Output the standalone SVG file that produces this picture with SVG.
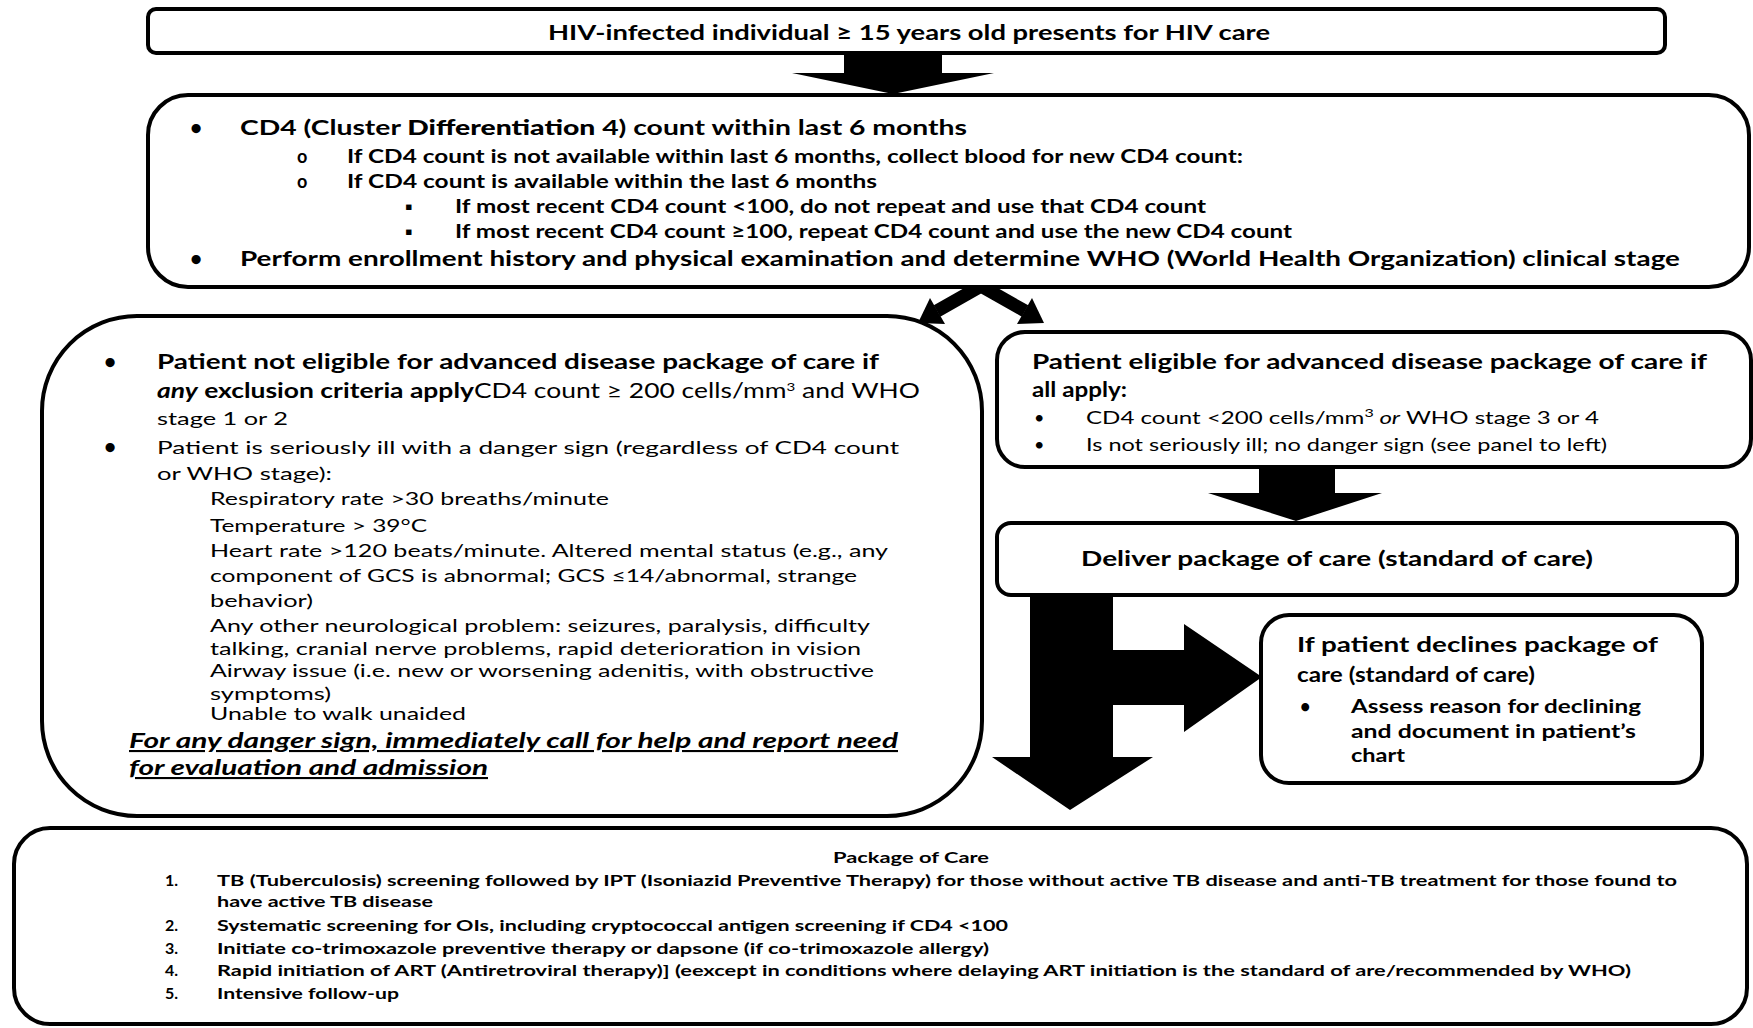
<svg xmlns="http://www.w3.org/2000/svg" width="1753" height="1028" viewBox="0 0 1753 1028">
<style>
.box{fill:#fff;stroke:#000;stroke-width:4}
.arr{fill:#000;stroke:none}
text{font-family:Lato,"Liberation Sans",sans-serif;fill:#000}
.h{font-size:21px;font-weight:700}
.n{font-size:18px;font-weight:400}
.s{font-size:18px;font-weight:700}
.b{font-size:16px;font-weight:700}
.it{font-style:italic}
.u{text-decoration:underline}
</style>
<rect width="1753" height="1028" fill="#fff"/>
<g id="connectors">
<polygon class="arr" points="844,53 942,53 942,73 994,73 893,94 792,73 844,73"/>
<path d="M937,311 L981,286 L1025,311" fill="none" stroke="#000" stroke-width="13" stroke-linejoin="miter"/>
<polygon class="arr" points="918,323 930,298 945,324"/>
<polygon class="arr" points="1044,323 1032,298 1017,324"/>
<polygon class="arr" points="1259,467 1335,467 1335,493 1382,493 1296,521 1208,493 1259,493"/>
<polygon class="arr" points="1030,595 1113,595 1113,650 1184,650 1184,624 1262,677 1184,732 1184,705 1113,705 1113,757 1153,757 1070,810 992,757 1030,757"/>
</g>
<g id="n-start">
<rect class="box" x="148" y="9" width="1517" height="44" rx="8"/>
<text class="h" x="548" y="40" textLength="722" lengthAdjust="spacingAndGlyphs">HIV-infected individual ≥ 15 years old presents for HIV care</text>
</g>
<g id="n-cd4">
<rect class="box" x="148" y="95" width="1601" height="192" rx="40"/>
<text class="h" x="190" y="135">•</text>
<text class="h" x="240" y="135" textLength="727" lengthAdjust="spacingAndGlyphs">CD4 (Cluster <tspan font-weight="900">Differentiation</tspan> 4) count within last 6 months</text>
<text class="s" x="297" y="163">o</text>
<text class="s" x="347" y="163" textLength="896" lengthAdjust="spacingAndGlyphs">If CD4 count is not available within last 6 months, collect blood for new CD4 count:</text>
<text class="s" x="297" y="188">o</text>
<text class="s" x="347" y="188" textLength="530" lengthAdjust="spacingAndGlyphs">If CD4 count is available within the last 6 months</text>
<text class="s" x="405" y="213">▪</text>
<text class="s" x="455" y="213" textLength="751" lengthAdjust="spacingAndGlyphs">If most recent CD4 count &lt;100, do not repeat and use that CD4 count</text>
<text class="s" x="405" y="238">▪</text>
<text class="s" x="455" y="238" textLength="837" lengthAdjust="spacingAndGlyphs">If most recent CD4 count ≥100, repeat CD4 count and use the new CD4 count</text>
<text class="h" x="190" y="266">•</text>
<text class="h" x="240" y="266" textLength="1440" lengthAdjust="spacingAndGlyphs">Perform enrollment history and physical examination and determine WHO (World Health Organization) clinical stage</text>
</g>
<g id="n-not-eligible">
<rect class="box" x="42" y="316" width="940" height="500" rx="95"/>
<text class="h" x="104" y="369">•</text>
<text class="h" x="157" y="369" textLength="722" lengthAdjust="spacingAndGlyphs">Patient not eligible for advanced disease package of care if</text>
<text class="h" x="157" y="398" textLength="763" lengthAdjust="spacingAndGlyphs"><tspan class="it">any</tspan> exclusion criteria apply<tspan font-weight="400">CD4 count ≥ 200 cells/mm<tspan font-size="12" dy="-7">3</tspan><tspan dy="7"> and WHO</tspan></tspan></text>
<text class="n" x="157" y="425" textLength="131" lengthAdjust="spacingAndGlyphs">stage 1 or 2</text>
<text class="h" x="104" y="454">•</text>
<text class="n" x="157" y="454" textLength="742" lengthAdjust="spacingAndGlyphs">Patient is seriously ill with a danger sign (regardless of CD4 count</text>
<text class="n" x="157" y="480" textLength="175" lengthAdjust="spacingAndGlyphs">or WHO stage):</text>
<text class="n" x="210" y="505" textLength="399" lengthAdjust="spacingAndGlyphs">Respiratory rate &gt;30 breaths/minute</text>
<text class="n" x="210" y="532" textLength="217" lengthAdjust="spacingAndGlyphs">Temperature &gt; 39°C</text>
<text class="n" x="210" y="557" textLength="678" lengthAdjust="spacingAndGlyphs">Heart rate &gt;120 beats/minute. Altered mental status (e.g., any</text>
<text class="n" x="210" y="582" textLength="647" lengthAdjust="spacingAndGlyphs">component of GCS is abnormal; GCS ≤14/abnormal, strange</text>
<text class="n" x="210" y="607" textLength="103" lengthAdjust="spacingAndGlyphs">behavior)</text>
<text class="n" x="210" y="632" textLength="660" lengthAdjust="spacingAndGlyphs">Any other neurological problem: seizures, paralysis, difficulty</text>
<text class="n" x="210" y="655" textLength="651" lengthAdjust="spacingAndGlyphs">talking, cranial nerve problems, rapid deterioration in vision</text>
<text class="n" x="210" y="677" textLength="664" lengthAdjust="spacingAndGlyphs">Airway issue (i.e. new or worsening adenitis, with obstructive</text>
<text class="n" x="210" y="700" textLength="121" lengthAdjust="spacingAndGlyphs">symptoms)</text>
<text class="n" x="210" y="720" textLength="256" lengthAdjust="spacingAndGlyphs">Unable to walk unaided</text>
<text class="h it u" x="129" y="748" textLength="769" lengthAdjust="spacingAndGlyphs">For any danger sign, immediately call for help and report need</text>
<text class="h it u" x="129" y="775" textLength="359" lengthAdjust="spacingAndGlyphs">for evaluation and admission</text>
</g>
<g id="n-eligible">
<rect class="box" x="997" y="332" width="754" height="135" rx="28"/>
<text class="h" x="1032" y="369" textLength="675" lengthAdjust="spacingAndGlyphs">Patient eligible for advanced disease package of care if</text>
<text class="h" x="1032" y="397" textLength="95" lengthAdjust="spacingAndGlyphs">all apply:</text>
<text class="n" x="1034" y="424" font-weight="700">•</text>
<text class="n" x="1086" y="424" textLength="513" lengthAdjust="spacingAndGlyphs">CD4 count &lt;200 cells/mm<tspan font-size="12" dy="-7">3</tspan><tspan dy="7" class="it"> or</tspan> WHO stage 3 or 4</text>
<text class="n" x="1034" y="451" font-weight="700">•</text>
<text class="n" x="1086" y="451" textLength="521" lengthAdjust="spacingAndGlyphs">Is not seriously ill; no danger sign (see panel to left)</text>
</g>
<g id="n-deliver">
<rect class="box" x="997" y="523" width="740" height="72" rx="14"/>
<text class="h" x="1081" y="566" textLength="512" lengthAdjust="spacingAndGlyphs">Deliver package of care (standard of care)</text>
</g>
<g id="n-declines">
<rect class="box" x="1261" y="615" width="441" height="168" rx="28"/>
<text class="h" x="1297" y="652" textLength="361" lengthAdjust="spacingAndGlyphs">If patient declines package of</text>
<text class="h" x="1297" y="682" textLength="238" lengthAdjust="spacingAndGlyphs">care (standard of care)</text>
<text class="s" x="1300" y="713">•</text>
<text class="s" x="1351" y="713" textLength="290" lengthAdjust="spacingAndGlyphs">Assess reason for declining</text>
<text class="s" x="1351" y="738" textLength="285" lengthAdjust="spacingAndGlyphs">and document in patient’s</text>
<text class="s" x="1351" y="762" textLength="54" lengthAdjust="spacingAndGlyphs">chart</text>
</g>
<g id="n-package">
<rect class="box" x="14" y="828" width="1733" height="196" rx="36"/>
<text class="b" x="833" y="863" textLength="156" lengthAdjust="spacingAndGlyphs">Package of Care</text>
<text class="b" x="165" y="886">1.</text>
<text class="b" x="217" y="886" textLength="1460" lengthAdjust="spacingAndGlyphs">TB (Tuberculosis) screening followed by IPT (Isoniazid Preventive Therapy) for those without active TB disease and anti-TB treatment for those found to</text>
<text class="b" x="217" y="907" textLength="216" lengthAdjust="spacingAndGlyphs">have active TB disease</text>
<text class="b" x="165" y="931">2.</text>
<text class="b" x="217" y="931" textLength="791" lengthAdjust="spacingAndGlyphs">Systematic screening for OIs, including cryptococcal antigen screening if CD4 &lt;100</text>
<text class="b" x="165" y="954">3.</text>
<text class="b" x="217" y="954" textLength="772" lengthAdjust="spacingAndGlyphs">Initiate co-trimoxazole preventive therapy or dapsone (if co-trimoxazole allergy)</text>
<text class="b" x="165" y="976">4.</text>
<text class="b" x="217" y="976" textLength="1414" lengthAdjust="spacingAndGlyphs">Rapid initiation of ART (Antiretroviral therapy)] (eexcept in conditions where delaying ART initiation is the standard of are/recommended by WHO)</text>
<text class="b" x="165" y="999">5.</text>
<text class="b" x="217" y="999" textLength="182" lengthAdjust="spacingAndGlyphs">Intensive follow-up</text>
</g>
</svg>
